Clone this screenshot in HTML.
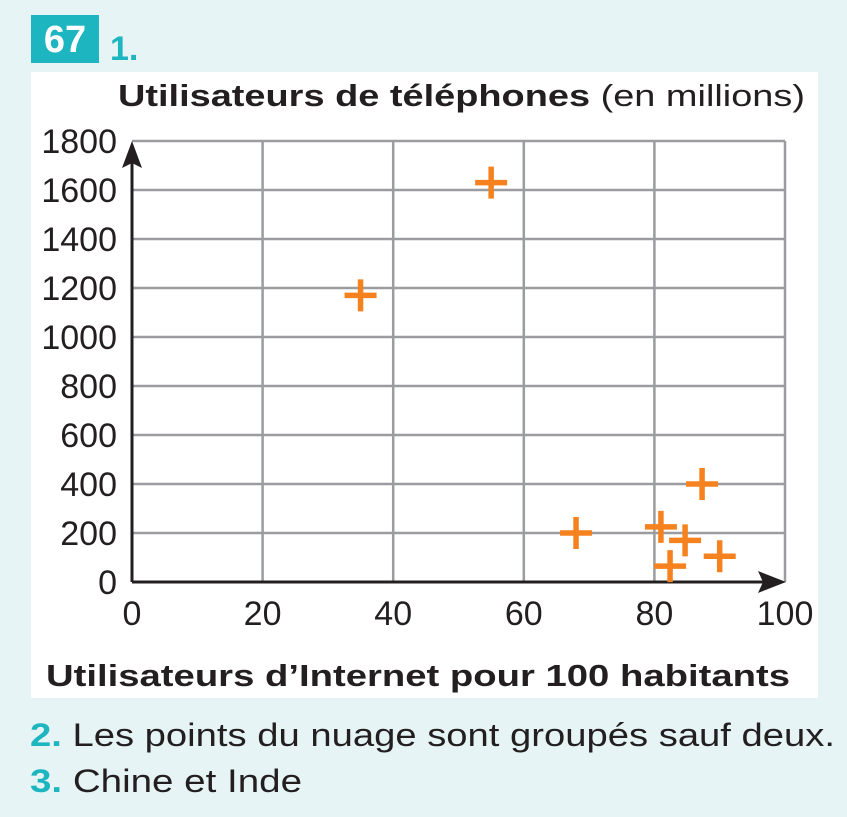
<!DOCTYPE html>
<html><head><meta charset="utf-8"><style>
body{margin:0;width:847px;height:817px;background:#e6f4f5;font-family:"Liberation Sans",sans-serif;position:relative;overflow:hidden}
.panel{position:absolute;left:31px;top:72px;width:787px;height:626px;background:#fff}
.badge{position:absolute;left:31px;top:15px;width:68px;height:48px;background:#1db5bf;color:#fff;font-weight:bold;font-size:38px;line-height:50px;text-align:center}
</style></head><body>
<div class="badge">67</div>
<div class="panel"></div>
<svg id="c" width="847" height="817" style="position:absolute;left:0;top:0" font-family="Liberation Sans, sans-serif">
<text x="110" y="60" font-size="34" font-weight="bold" fill="#1db5bf">1.</text>
<text x="118" y="106" font-size="31" fill="#231f20" textLength="687" lengthAdjust="spacingAndGlyphs"><tspan font-weight="bold">Utilisateurs de téléphones</tspan> (en millions)</text>
<text x="46" y="686" font-size="31" font-weight="bold" fill="#231f20" textLength="744" lengthAdjust="spacingAndGlyphs">Utilisateurs d’Internet pour 100 habitants</text>
<text x="30" y="746" font-size="32" fill="#231f20" textLength="805" lengthAdjust="spacingAndGlyphs"><tspan font-weight="bold" fill="#1db5bf">2.</tspan> Les points du nuage sont groupés sauf deux.</text>
<text x="30" y="792" font-size="32" fill="#231f20" textLength="272" lengthAdjust="spacingAndGlyphs"><tspan font-weight="bold" fill="#1db5bf">3.</tspan> Chine et Inde</text>
</svg>
<script>
const xTicks=[0,20,40,60,80,100];
const yTicks=[0,200,400,600,800,1000,1200,1400,1600,1800];
const xVals=[35,55,68,81,84.7,87.3,82.4,90];
const yVals=[1170,1630,200,225,170,400,65,105];
const X=v=>132+v*6.53, Y=v=>582-v*0.245;
const s=document.getElementById('c'),NS='http://www.w3.org/2000/svg';
function mk(t,a){const e=document.createElementNS(NS,t);for(const k in a)e.setAttribute(k,a[k]);s.appendChild(e);return e;}
xTicks.forEach(v=>{if(v>0){const l=mk('line',{x1:X(v),x2:X(v),y1:Y(1800),y2:Y(0),stroke:'#9a9c9f','stroke-width':2.5});

}
const t=mk('text',{x:X(v),y:625,'text-anchor':'middle','font-size':34,fill:'#231f20'});t.textContent=v;

});
yTicks.forEach(v=>{if(v>0){const l=mk('line',{x1:X(0),x2:X(100),y1:Y(v),y2:Y(v),stroke:'#9a9c9f','stroke-width':2.5});

}
const t=mk('text',{x:117,y:Y(v)+12,'text-anchor':'end','font-size':34,fill:'#231f20'});t.textContent=v;

});
let a=mk('line',{x1:X(0),x2:X(0),y1:Y(0),y2:160,stroke:'#231f20','stroke-width':3});


a=mk('polygon',{points:`${X(0)},141 ${X(0)-10},168 ${X(0)},163 ${X(0)+10},168`,fill:'#231f20'});


a=mk('line',{x1:X(0),x2:765,y1:Y(0),y2:Y(0),stroke:'#231f20','stroke-width':3});


a=mk('polygon',{points:`786,${Y(0)} 758,${Y(0)-11} 763,${Y(0)} 758,${Y(0)+11}`,fill:'#231f20'});


xVals.forEach((v,i)=>{const x=X(v),y=Y(yVals[i]);
const p=mk('path',{d:`M${x-16},${y}H${x+16}M${x},${y-16}V${y+16}`,stroke:'#f5821f','stroke-width':5.5});

});
</script>
</body></html>
